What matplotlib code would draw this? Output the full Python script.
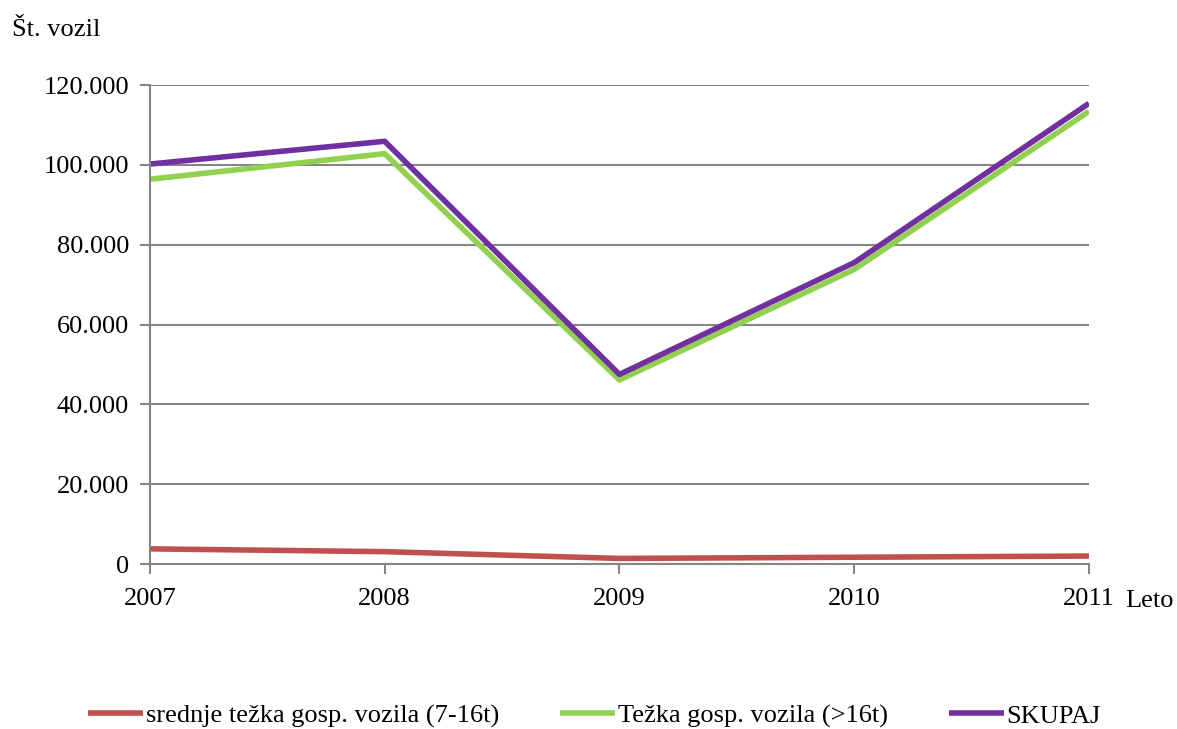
import matplotlib.pyplot as plt
from matplotlib.ticker import FuncFormatter

plt.rcParams['font.family'] = ['Liberation Serif', 'DejaVu Serif']

# data
years = [2007, 2008, 2009, 2010, 2011]
srednje = [3800, 3100, 1400, 1700, 2000]
tezka = [96400, 102800, 46100, 73800, 113400]
skupaj = [100200, 105900, 47500, 75500, 115400]
labels = ['srednje težka gosp. vozila (7-16t)', 'Težka gosp. vozila (>16t)', 'SKUPAJ']
colors = ['#C0504D', '#92D050', '#7030A0']

fig = plt.figure(figsize=(11.77, 7.29), dpi=100)
ax = fig.add_axes([0.1274, 0.2263, 0.7978, 0.6571])

for vals, lab, col in zip([srednje, tezka, skupaj], labels, colors):
    ax.plot(years, vals, color=col, linewidth=4, label=lab, solid_capstyle='butt')

ax.set_xlim(2007, 2011)
ax.set_ylim(0, 120000)
ax.set_yticks(range(0, 120001, 20000))
ax.set_xticks(years)
ax.yaxis.set_major_formatter(FuncFormatter(lambda v, p: f'{int(v):,}'.replace(',', '.')))

ax.grid(axis='y', color='#868686', linewidth=1.5)
ax.set_axisbelow(True)
for s in ['top', 'right']:
    ax.spines[s].set_visible(False)
for s in ['left', 'bottom']:
    ax.spines[s].set_color('#868686')
    ax.spines[s].set_linewidth(1.5)
ax.tick_params(axis='both', colors='#868686', labelcolor='black', labelsize=19,
               length=7, width=1.5)
ax.tick_params(axis='x', pad=10)
ax.tick_params(axis='y', pad=8)

fig.text(12 / 1177, 1 - 30 / 729, 'Št. vozil', fontsize=19, va='center', ha='left')
fig.text(1125 / 1177, 1 - 601 / 729, 'Leto', fontsize=19, va='center', ha='left')

fig.legend(loc='center', bbox_to_anchor=(0.505, 1 - 716 / 729), ncol=3, frameon=False,
           fontsize=19, handlelength=2.1, handletextpad=0.1, columnspacing=2.3,
           borderpad=0, borderaxespad=0)

fig.savefig('out.png', dpi=100)
